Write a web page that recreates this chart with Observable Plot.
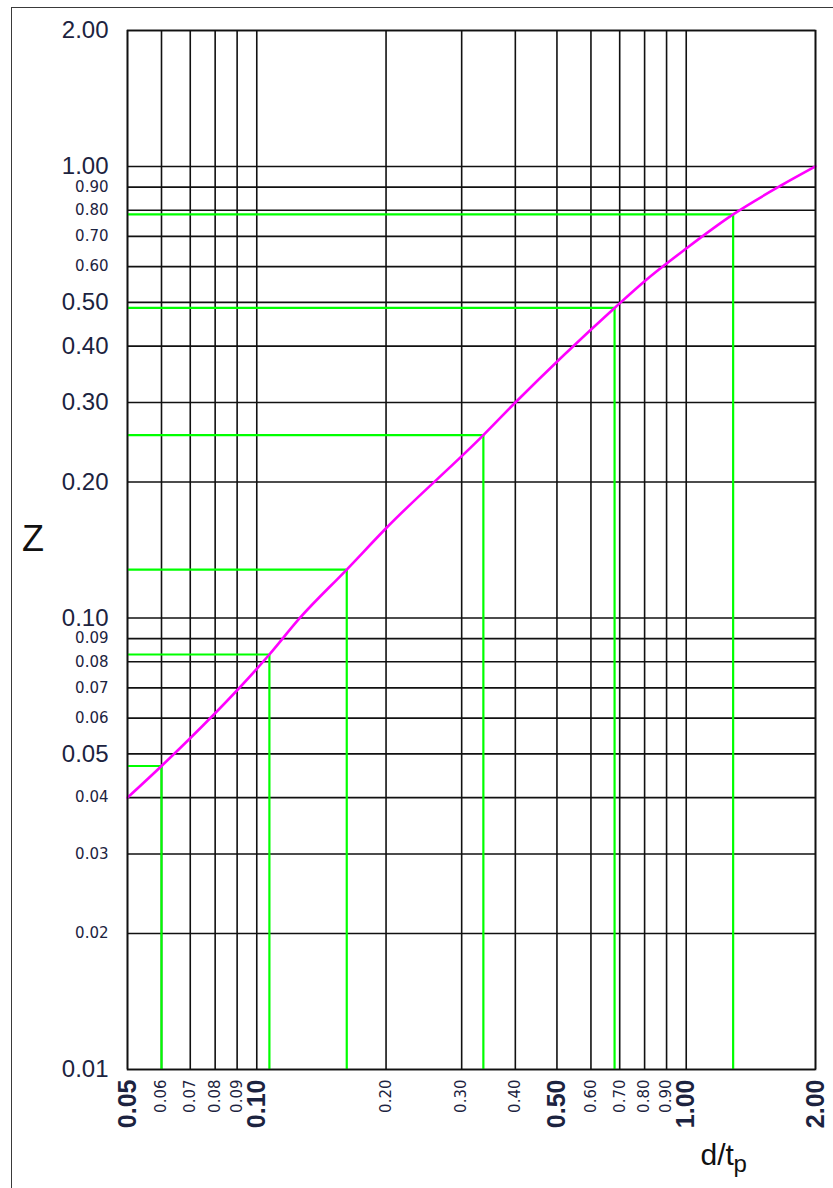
<!DOCTYPE html>
<html>
<head>
<meta charset="utf-8">
<script src="https://cdn.jsdelivr.net/npm/d3@7"></script>
<script src="https://cdn.jsdelivr.net/npm/@observablehq/plot@0.6"></script>
<style>
  html, body { margin: 0; padding: 0; background: #fff; }
  #wrap { position: relative; width: 833px; height: 1188px; overflow: hidden; }
  #border { position: absolute; left: 11px; top: 7px; width: 900px; height: 1300px;
            border: 1.5px solid #3a3a3a; pointer-events: none; z-index: 2; }
</style>
</head>
<body>
<div id="wrap"><div id="border"></div></div>
<script>
// grid values
const xGrid = [0.05, 0.06, 0.07, 0.08, 0.09, 0.1, 0.2, 0.3, 0.4, 0.5, 0.6, 0.7, 0.8, 0.9, 1, 2];
const yGrid = [0.01, 0.02, 0.03, 0.04, 0.05, 0.06, 0.07, 0.08, 0.09, 0.1, 0.2, 0.3, 0.4, 0.5, 0.6, 0.7, 0.8, 0.9, 1, 2];
// tick labels
const xLabelsBig = [0.05, 0.1, 0.5, 1, 2];
const xLabelsSmall = [0.06, 0.07, 0.08, 0.09, 0.2, 0.3, 0.4, 0.6, 0.7, 0.8, 0.9];
const yLabelsBig = [0.01, 0.05, 0.1, 0.2, 0.3, 0.4, 0.5, 1, 2];
const yLabelsSmall = [0.02, 0.03, 0.04, 0.06, 0.07, 0.08, 0.09, 0.6, 0.7, 0.8, 0.9];
// magenta curve Z vs d/tp
const curveD = [0.05, 0.06, 0.107, 0.126, 0.162, 0.2, 0.337, 0.4, 0.681, 0.8, 1.0, 1.286, 1.655, 2.0];
const curveZ = [0.04, 0.047, 0.083, 0.1, 0.128, 0.158, 0.254, 0.3, 0.486, 0.557, 0.658, 0.783, 0.905, 1.0];
// green read-off points
const readD = [0.06, 0.107, 0.162, 0.337, 0.681, 1.286];
const readZ = [0.047, 0.083, 0.128, 0.254, 0.486, 0.783];

const curve = curveD.map((d, i) => ({d, z: curveZ[i]}));
const reads = readD.map((d, i) => ({d, z: readZ[i]}));

const labelColor = "#1c2340";
const fmt = v => v.toFixed(2);
const X0 = 0.05, Y0 = 0.01;

const chart = Plot.plot({
  width: 833,
  height: 1188,
  marginLeft: 127,
  marginRight: 18,
  marginTop: 30,
  marginBottom: 119,
  x: {type: "log", domain: [0.05, 2], axis: null},
  y: {type: "log", domain: [0.01, 2], axis: null},
  style: {background: "transparent"},
  marks: [
    Plot.ruleX(xGrid, {stroke: "#111", strokeWidth: 1.6}),
    Plot.ruleY(yGrid, {stroke: "#111", strokeWidth: 1.6}),
    Plot.ruleY(reads, {y: "z", x1: () => X0, x2: "d", stroke: "#00ff00", strokeWidth: 2.2}),
    Plot.ruleX(reads, {x: "d", y1: () => Y0, y2: "z", stroke: "#00ff00", strokeWidth: 2.2}),
    Plot.line(curve, {x: "d", y: "z", stroke: "#ff00ff", strokeWidth: 2.6, curve: "monotone-x"}),
    Plot.frame({stroke: "#111", strokeWidth: 1.6}),
    // y tick labels
    Plot.text(yLabelsBig, {x: () => X0, y: d => d, text: fmt, textAnchor: "end", dx: -19,
      fontSize: 24, fontFamily: "Liberation Sans, Arial, sans-serif", fill: labelColor}),
    Plot.text(yLabelsSmall, {x: () => X0, y: d => d, text: fmt, textAnchor: "end", dx: -19,
      fontSize: 15, fontFamily: "DejaVu Sans, sans-serif", fill: labelColor}),
    // x tick labels (rotated)
    Plot.text(xLabelsBig, {x: d => d, y: () => Y0, text: fmt, rotate: -90, textAnchor: "end", dy: 10,
      fontSize: 25, fontWeight: "bold", fontFamily: "Liberation Sans, Arial, sans-serif", fill: labelColor}),
    Plot.text(xLabelsSmall, {x: d => d, y: () => Y0, text: fmt, rotate: -90, textAnchor: "end", dy: 10,
      fontSize: 15, fontFamily: "DejaVu Sans, sans-serif", fill: labelColor}),
    // axis titles
    Plot.text(["Z"], {frameAnchor: "left", dx: -94.5, dy: -11, textAnchor: "middle",
      fontSize: 36, fontFamily: "Liberation Sans, Arial, sans-serif", fill: "#111"}),
    Plot.text(["d/t"], {frameAnchor: "bottom-right", dx: -115, dy: 95.7, textAnchor: "start",
      fontSize: 30, fontFamily: "Liberation Sans, Arial, sans-serif", fill: "#111"}),
    Plot.text(["p"], {frameAnchor: "bottom-right", dx: -82, dy: 102.6, textAnchor: "start",
      fontSize: 24, fontFamily: "Liberation Sans, Arial, sans-serif", fill: "#111"})
  ]
});
document.getElementById("wrap").appendChild(chart);
</script>
</body>
</html>
